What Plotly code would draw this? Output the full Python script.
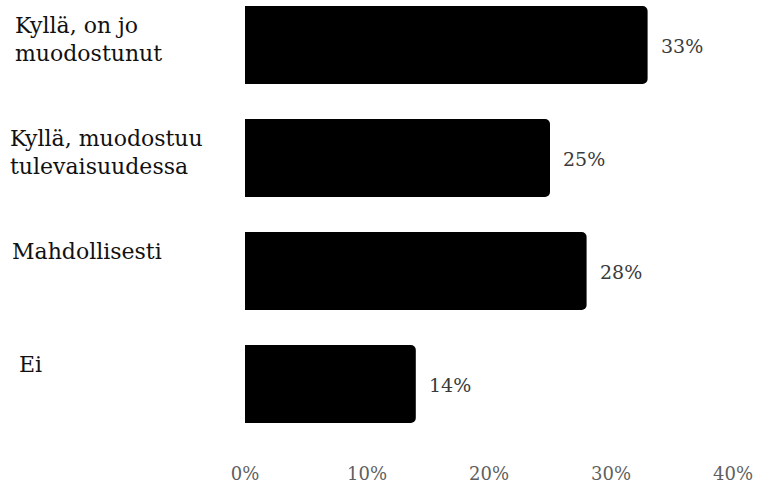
import plotly.graph_objects as go

# Survey answers and their shares (%)
categories = ["Kyllä, on jo\nmuodostunut", "Kyllä, muodostuu\ntulevaisuudessa", "Mahdollisesti", "Ei"]
values = [33, 25, 28, 14]
tick_values = [0, 10, 20, 30, 40]
tick_labels = ["0%", "10%", "20%", "30%", "40%"]

FONT = "DejaVu Serif, serif"
W, H = 758, 484
ML, MR, MT, MB = 245, 25, 0, 44
plot_w = W - ML - MR

fig = go.Figure()
fig.add_trace(go.Bar(
    x=values,
    y=list(range(len(categories))),
    orientation="h",
    marker=dict(color="#000000", cornerradius=5, line=dict(width=0)),
    hoverinfo="skip",
))

annotations = []
# value labels to the right of each bar
for i, v in enumerate(values):
    annotations.append(dict(
        x=v, y=i, xref="x", yref="y", text=f"{v}%", showarrow=False,
        xanchor="left", yanchor="middle", xshift=11, yshift=-1,
        font=dict(family=FONT, size=19, color="#3a3a3a"),
    ))

# category labels, left-aligned in the left margin, one line at a time
label_x = [13, 8, 10, 17]
for i, cat in enumerate(categories):
    for j, line in enumerate(cat.split("\n")):
        annotations.append(dict(
            x=(label_x[i] - ML) / plot_w, xref="paper",
            y=i - 0.34, yref="y", yshift=-4 - 28 * j,
            text=line, showarrow=False, xanchor="left", yanchor="top",
            font=dict(family=FONT, size=22, color="#111111"),
        ))

fig.update_layout(
    width=W, height=H,
    margin=dict(l=ML, r=MR, t=MT, b=MB, pad=0),
    paper_bgcolor="white", plot_bgcolor="white",
    font=dict(family=FONT),
    bargap=0.31,
    showlegend=False,
    annotations=annotations,
    xaxis=dict(
        range=[0, 40], tickvals=tick_values, ticktext=tick_labels,
        showgrid=False, zeroline=False, showline=False, ticks="",
        tickfont=dict(family=FONT, size=18, color="#5f5f5f"),
        ticklabelstandoff=25, fixedrange=True,
    ),
    yaxis=dict(
        range=[3.46, -0.398], showticklabels=False, showgrid=False,
        zeroline=False, showline=False, ticks="", fixedrange=True,
    ),
)

fig.write_html("out.html")
